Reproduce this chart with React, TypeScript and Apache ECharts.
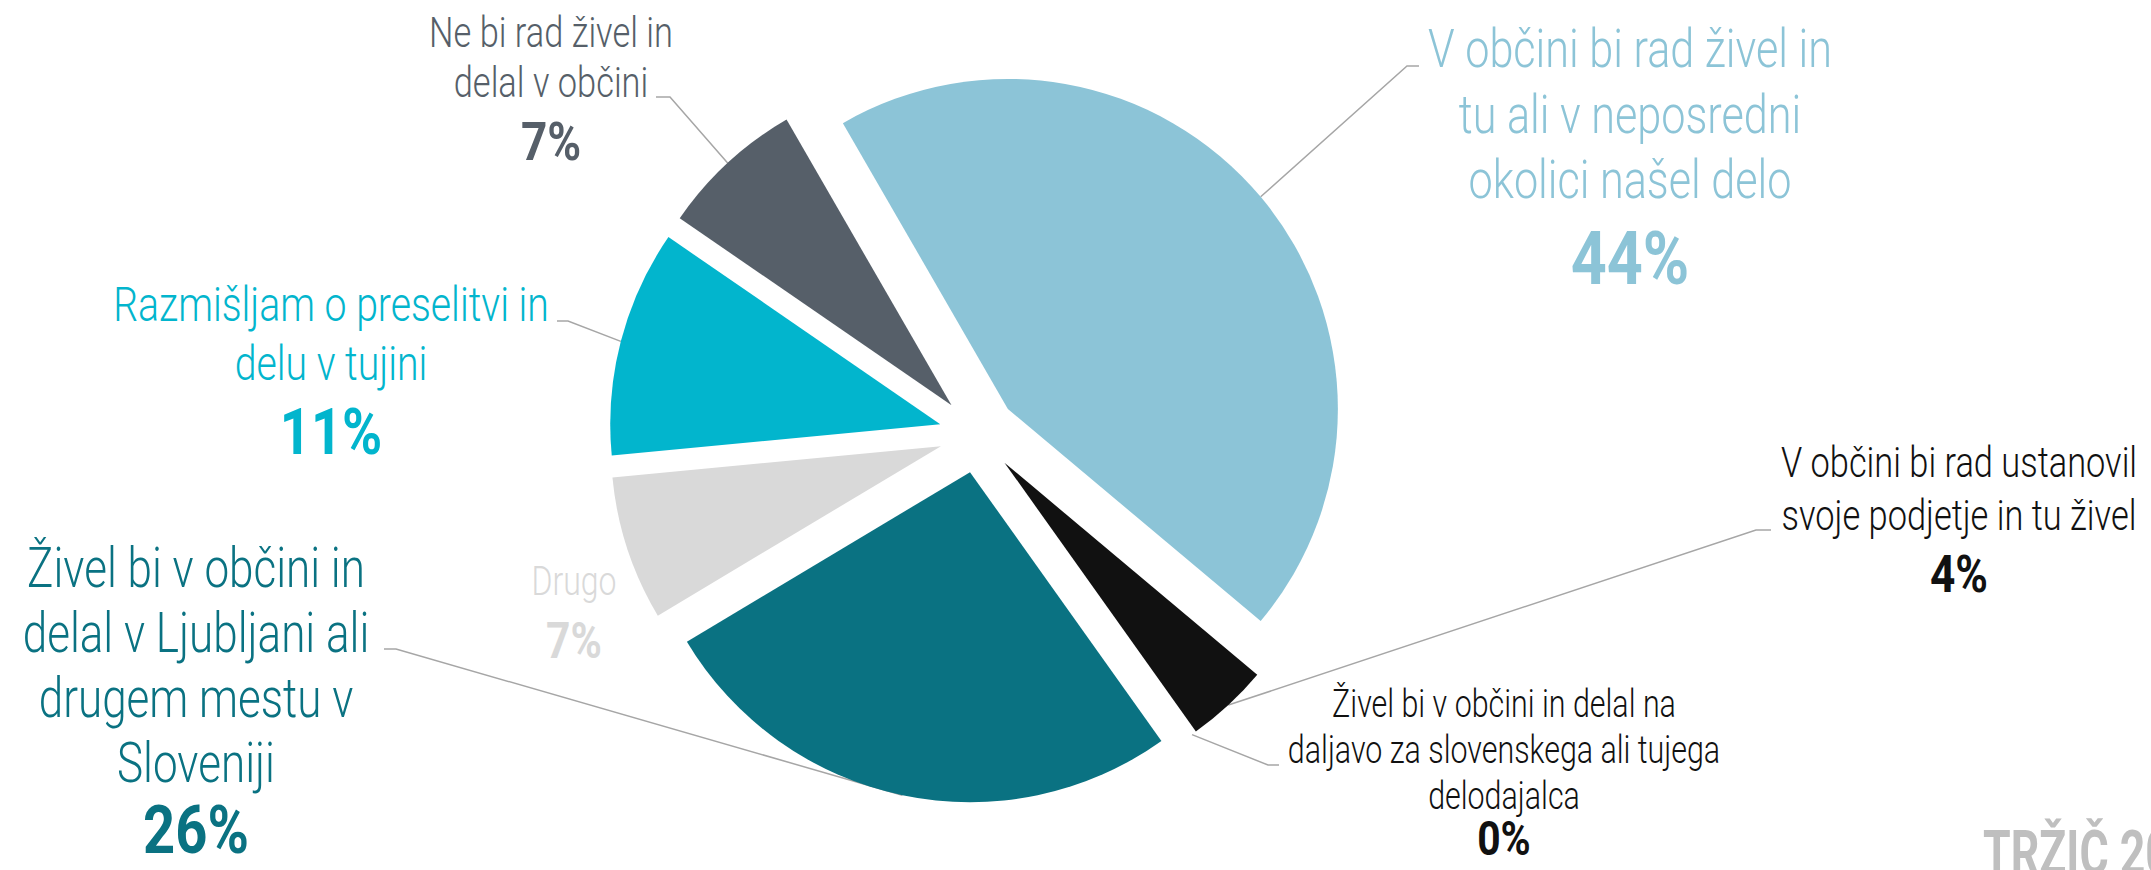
import React, { useEffect, useRef } from 'react';
import * as echarts from 'echarts';

// ---- data ----
const categories = [
  'V občini bi rad živel in tu ali v neposredni okolici našel delo',
  'V občini bi rad ustanovil svoje podjetje in tu živel',
  'Živel bi v občini in delal na daljavo za slovenskega ali tujega delodajalca',
  'Živel bi v občini in delal v Ljubljani ali drugem mestu v Sloveniji',
  'Drugo',
  'Razmišljam o preselitvi in delu v tujini',
  'Ne bi rad živel in delal v občini',
];
const values = [44, 4, 0, 26, 7, 11, 7];
const labelLines = [
  ['V občini bi rad živel in', 'tu ali v neposredni', 'okolici našel delo'],
  ['V občini bi rad ustanovil', 'svoje podjetje in tu živel'],
  ['Živel bi v občini in delal na', 'daljavo za slovenskega ali tujega', 'delodajalca'],
  ['Živel bi v občini in', 'delal v Ljubljani ali', 'drugem mestu v', 'Sloveniji'],
  ['Drugo'],
  ['Razmišljam o preselitvi in', 'delu v tujini'],
  ['Ne bi rad živel in', 'delal v občini'],
];
const footerText = 'TRŽIČ 2023';

// ---- styles / layout ----
const sliceColors = ['#8cc4d7', '#111111', '#333333', '#0a7282', '#d9d9d9', '#02b5cd', '#565f69'];
const textColors = ['#8cc4d7', '#111111', '#111111', '#0a7282', '#d9d9d9', '#02b5cd', '#565f69'];
const CX = 978;
const CY = 434;
const RADIUS = 330;
const OFFSET = 39;
const START = 120;
const FONT = 'Roboto, "Liberation Sans", sans-serif';
const TEXT_SCALE = 0.8;
const PCT_SCALE = 0.85;

type LabelLayout = {
  x: number;
  ys: number[];
  fs: number;
  pctY: number;
  pctFs: number;
  leader: number[][] | null;
};
const layouts: LabelLayout[] = [
  { x: 1630, ys: [49, 114.5, 180], fs: 54, pctY: 259, pctFs: 74, leader: [[1407, 66], [1419, 66]] },
  { x: 1959, ys: [463, 516], fs: 43, pctY: 574, pctFs: 52, leader: [[1756, 530], [1771, 530]] },
  { x: 1504, ys: [704, 750, 796], fs: 38, pctY: 839, pctFs: 48, leader: [[1268, 765], [1279, 765]] },
  { x: 196, ys: [568, 633, 698, 763], fs: 55, pctY: 830, pctFs: 66, leader: [[396, 649], [384, 649]] },
  { x: 574, ys: [581], fs: 40, pctY: 641, pctFs: 50, leader: null },
  { x: 331, ys: [304, 363.5], fs: 49, pctY: 432, pctFs: 64, leader: [[568, 321], [557, 321]] },
  { x: 551, ys: [33, 83], fs: 43, pctY: 141.5, pctFs: 54, leader: [[670, 97], [656, 97]] },
];

function edgePoint(i: number): number[] {
  const total = values.reduce((a, b) => a + b, 0);
  let cum = 0;
  for (let j = 0; j < i; j++) cum += values[j];
  const mid = START - ((cum + values[i] / 2) / total) * 360;
  const a = (mid * Math.PI) / 180;
  const R = RADIUS + OFFSET;
  return [CX + R * Math.cos(a), CY - R * Math.sin(a)];
}

function textEl(text: string, x: number, y: number, fs: number, fill: string, weight: any, scale: number, align = 'center') {
  return {
    type: 'text',
    x,
    y,
    scaleX: scale,
    silent: true,
    style: {
      text,
      fontFamily: FONT,
      fontSize: fs,
      fontWeight: weight,
      fill,
      align,
      textAlign: align,
      verticalAlign: 'middle',
      textVerticalAlign: 'middle',
    },
  };
}

export default function App() {
  const ref = useRef<HTMLDivElement>(null);
  useEffect(() => {
    if (!ref.current) return;
    const chart = echarts.init(ref.current, undefined, { renderer: 'svg' });

    const graphics: any[] = [];
    layouts.forEach((l, i) => {
      if (l.leader) {
        graphics.push({
          type: 'polyline',
          silent: true,
          shape: { points: [edgePoint(i), ...l.leader] },
          style: { stroke: '#a6a6a6', lineWidth: 1.5, fill: null },
        });
      }
      labelLines[i].forEach((line, k) => {
        graphics.push(textEl(line, l.x, l.ys[k], l.fs, textColors[i], 300, TEXT_SCALE));
      });
      graphics.push(textEl(`${values[i]}%`, l.x, l.pctY, l.pctFs, textColors[i], 'bold', PCT_SCALE));
    });
    graphics.push(textEl(footerText, 1983, 853, 62, '#bfbfbf', 'bold', 0.72, 'left'));

    chart.setOption({
      animation: false,
      backgroundColor: '#ffffff',
      series: [
        {
          type: 'pie',
          center: [CX, CY],
          radius: RADIUS,
          startAngle: START,
          clockwise: true,
          selectedMode: 'multiple',
          selectedOffset: OFFSET,
          silent: true,
          label: { show: false },
          labelLine: { show: false },
          emphasis: { disabled: true },
          itemStyle: { borderWidth: 0 },
          data: categories.map((name, i) => ({
            name,
            value: values[i],
            selected: true,
            itemStyle: { color: sliceColors[i] },
          })),
        },
      ],
      graphic: graphics,
    });
    return () => chart.dispose();
  }, []);
  return (
    <div
      ref={ref}
      style={{ position: 'absolute', left: 0, top: 0, width: 2151, height: 870 }}
    />
  );
}
